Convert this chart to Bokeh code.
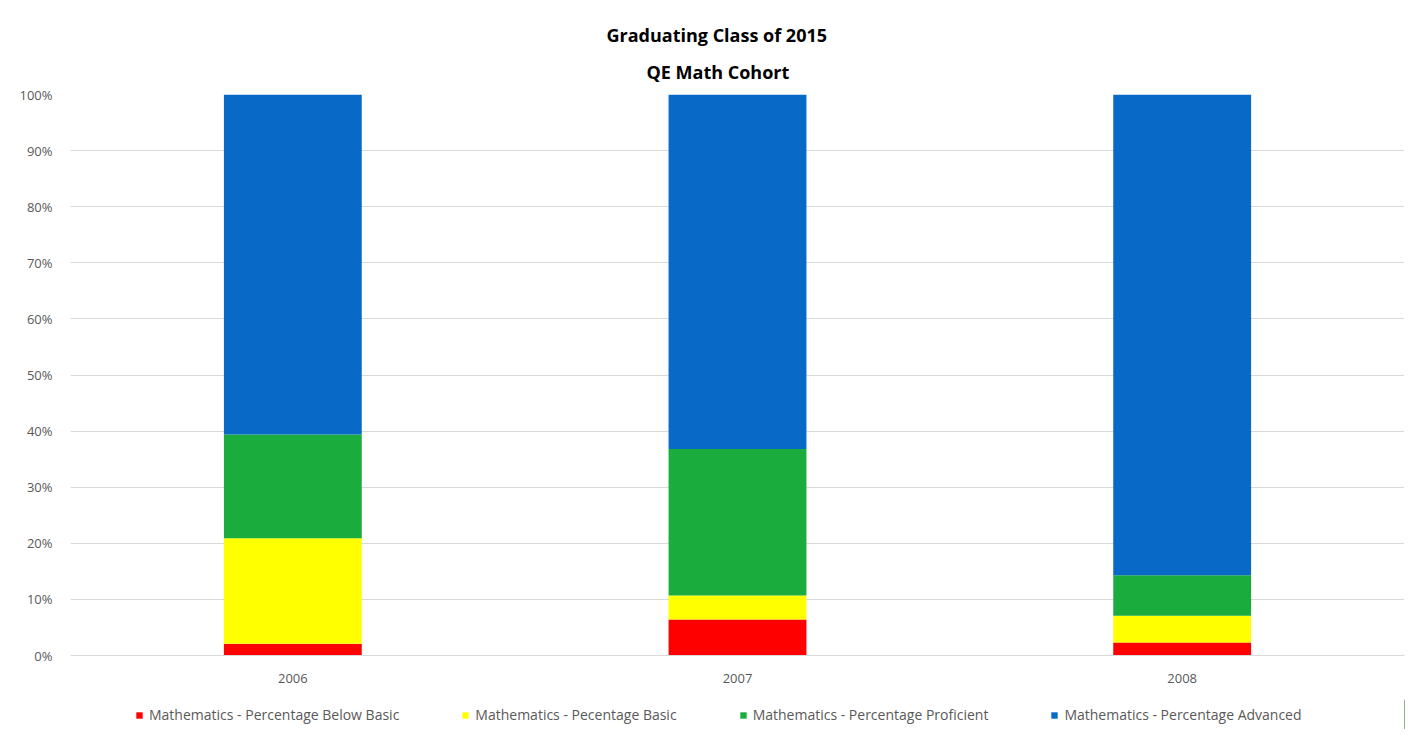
from bokeh.plotting import figure
from bokeh.layouts import column
from bokeh.models import ColumnDataSource, Legend, LegendItem, Title, NumeralTickFormatter, FixedTicker
from bokeh.embed import file_html
from bokeh.resources import INLINE

years = ["2006", "2007", "2008"]
below_basic = [0.021, 0.064, 0.023]
basic = [0.188, 0.043, 0.048]
proficient = [0.185, 0.261, 0.072]
advanced = [0.606, 0.632, 0.857]
series = ["below_basic", "basic", "proficient", "advanced"]
labels = ["Mathematics - Percentage Below Basic", "Mathematics - Pecentage Basic",
          "Mathematics - Percentage Proficient", "Mathematics - Percentage Advanced"]
colors = ["#FF0000", "#FFFF00", "#1AAD3D", "#0869C6"]
y_ticks = [i / 10 for i in range(11)]
title_lines = ["Graduating Class of 2015", "QE Math Cohort"]

source = ColumnDataSource(dict(years=years, below_basic=below_basic, basic=basic,
                               proficient=proficient, advanced=advanced))

FONT = "Open Sans"
p = figure(x_range=years, y_range=(0, 1), frame_width=1334, frame_height=561,
           output_backend="svg", toolbar_location=None,
           min_border_left=70, min_border_right=1, min_border_top=94, min_border_bottom=44)

renderers = p.vbar_stack(series, x="years", width=0.31, source=source,
                         color=colors, line_color=None)

p.add_layout(Title(text=title_lines[1], align="left", offset=576, text_font=FONT,
                   text_font_size="18px", text_font_style="bold", text_color="#000000",
                   standoff=22), "above")
p.add_layout(Title(text=title_lines[0], align="left", offset=536, text_font=FONT,
                   text_font_size="18px", text_font_style="bold", text_color="#000000",
                   standoff=0), "above")

p.yaxis.ticker = FixedTicker(ticks=y_ticks)
p.yaxis.formatter = NumeralTickFormatter(format="0%")
for ax in (p.xaxis, p.yaxis):
    ax.major_label_text_font = FONT
    ax.major_label_text_font_size = "13px"
    ax.major_label_text_color = "#595959"
    ax.major_tick_line_color = None
    ax.minor_tick_line_color = None
    ax.major_label_standoff = 12
p.yaxis.axis_line_color = None
p.xaxis.axis_line_color = "#D9D9D9"

p.xgrid.grid_line_color = None
p.ygrid.grid_line_color = "#D9D9D9"
p.outline_line_color = None

# legend strip below the chart (its renderers sit outside its visible range)
lp = figure(width=1405, height=30, output_backend="svg", toolbar_location=None,
            min_border=0, x_range=(0, 1), y_range=(0, 1))
lp.axis.visible = False
lp.grid.grid_line_color = None
lp.outline_line_color = None
lp_renderers = [lp.vbar(x=[5], top=[1], width=0.1, color=c, line_color=None) for c in colors]

items = [LegendItem(label=lab, renderers=[r]) for lab, r in zip(labels, lp_renderers)]
legend = Legend(items=items, orientation="horizontal", location=(65, 5),
                label_text_font=FONT, label_text_font_size="14px", label_text_color="#595959",
                glyph_width=8, glyph_height=8, label_standoff=6, spacing=62,
                padding=0, margin=0, border_line_color=None, background_fill_alpha=0)
lp.add_layout(legend, "center")

layout = column(p, lp, spacing=0)
open("out.html", "w").write(file_html(layout, INLINE))
